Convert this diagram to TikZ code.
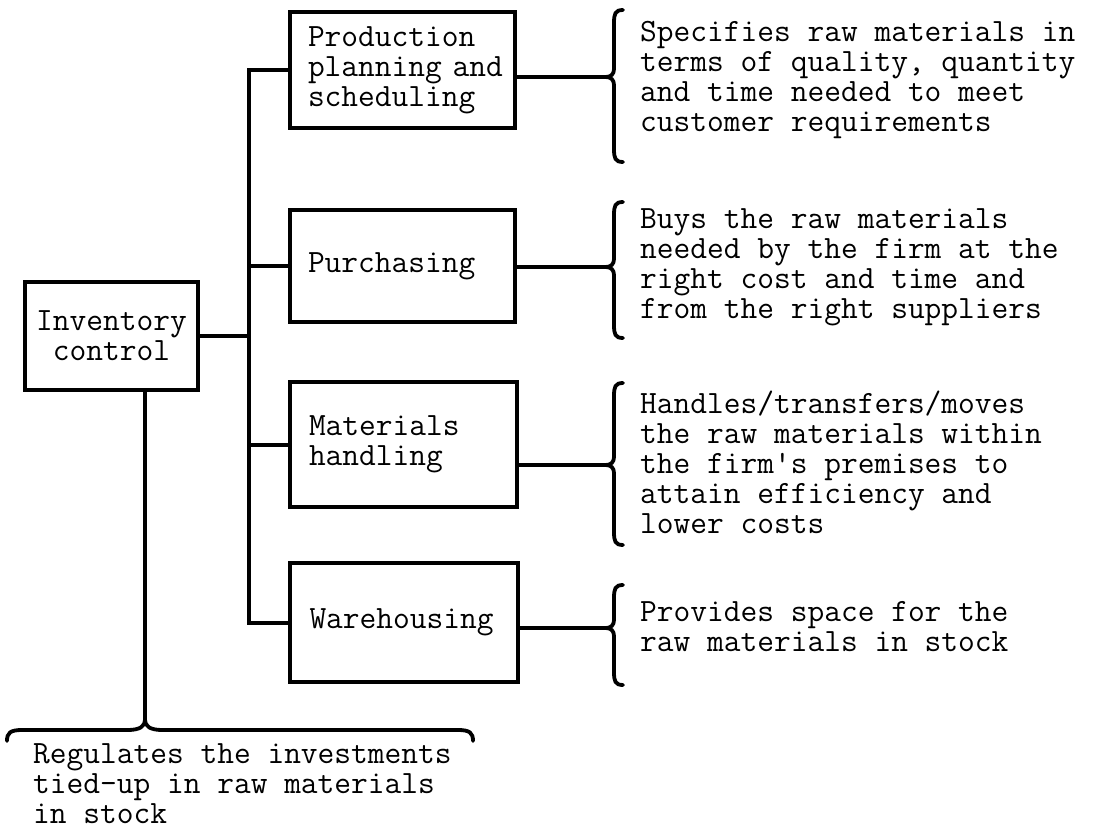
\documentclass[tikz,border=0pt]{standalone}
\usepackage{fontspec}
\newcommand\tfont{\ttfamily\fontsize{32.5pt}{30pt}\selectfont}
% left-opening curly brace: x, top, tip y, bottom, tip name
\newcommand\sidebrace[5]{%
  \coordinate (#5) at ({#1-8},#3);
  \draw[brace] ({#1+9},#2) .. controls ({#1+1},#2) and (#1,{#2+4}) .. (#1,{#2+13})
    -- (#1,{#3-8}) .. controls (#1,{#3-3}) and ({#1-3},#3) .. (#5)
    .. controls ({#1-3},#3) and (#1,{#3+3}) .. (#1,{#3+8})
    -- (#1,{#4-13}) .. controls (#1,{#4-4}) and ({#1+1},#4) .. ({#1+9},#4);}
\begin{document}
\begin{tikzpicture}[x=1pt,y=-1pt,
  box/.style={draw, line width=4.2pt, inner sep=0pt, font=\tfont,
              text width=189pt, align=left},
  conn/.style={line width=4pt},
  brace/.style={line width=3.8pt, line cap=round},
  desc/.style={anchor=west, align=left, inner sep=0pt, font=\tfont}]
\useasboundingbox (0,0) rectangle (1095,832);

% boxes
\node[box, minimum width=225pt, minimum height=116pt] (prod) at (402.5,70) {Production\\\mbox{planning and}\\scheduling};
\node[box, minimum width=225pt, minimum height=112pt] (purch) at (402.5,266) {Purchasing};
\node[box, minimum width=227pt, minimum height=125pt] (mat) at (403.5,444.5) {Materials\\handling};
\node[box, minimum width=228pt, minimum height=119pt] (ware) at (404,622.5) {Warehousing};
\node[box, minimum width=173pt, minimum height=108pt, text width=160pt, align=center] (inv) at (111.5,336) {Inventory\\control};

% trunk joining the four functions
\coordinate (tk) at (249,0);
\draw[conn] (prod.west) -- (prod.west -| tk) -- (ware.west -| tk) -- (ware.west);
\draw[conn] (purch.west) -- (purch.west -| tk);
\draw[conn] (mat.west) -- (mat.west -| tk);
\draw[conn] (inv.east) -- (inv.east -| tk);

% braces with descriptions
\sidebrace{614}{10}{77}{162}{b1}
\sidebrace{614}{202}{267}{338}{b2}
\sidebrace{614}{383}{465}{545}{b3}
\sidebrace{614}{585}{628}{685}{b4}
\draw[conn] (b1 -| prod.east) -- (b1);
\draw[conn] (b2 -| purch.east) -- (b2);
\draw[conn] (b3 -| mat.east) -- (b3);
\draw[conn] (b4 -| ware.east) -- (b4);

\node[desc] (d1) at (640,80) {Specifies raw materials in\\terms of quality, quantity\\and time needed to meet\\customer requirements};
\node[desc] (d2) at (640,267) {Buys the raw materials\\needed by the firm at the\\right cost and time and\\from the right suppliers};
\node[desc] (d3) at (640,462) {Handles/transfers/moves\\the raw materials within\\the firm's premises to\\attain efficiency and\\lower costs};
\node[desc] (d4) at (640,627) {Provides space for the\\raw materials in stock};

% bottom brace under inventory control
\coordinate (bt) at (145,720);
\draw[conn] (bt |- inv.south) -- (bt);
\draw[brace] (7,741) .. controls (7,733) and (10,730) .. (22,730) -- (128,730)
  .. controls (140,730) and (145,726) .. (bt)
  .. controls (145,726) and (150,730) .. (162,730) -- (458,730)
  .. controls (470,730) and (473,733) .. (473,741);
\node[desc] (d5) at (33,784) {Regulates the investments\\tied-up in raw materials\\in stock};
\end{tikzpicture}
\end{document}
